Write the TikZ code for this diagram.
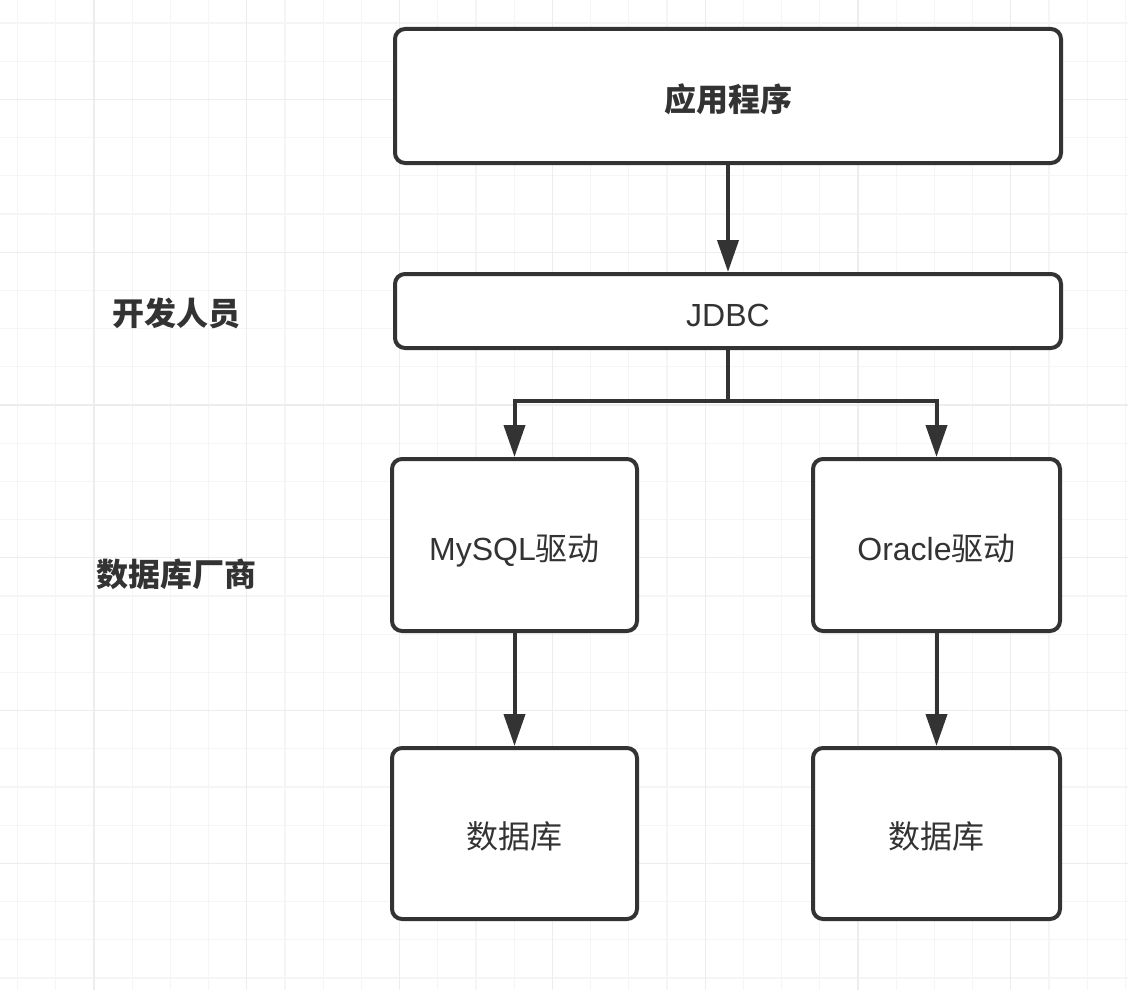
\documentclass[tikz,border=0pt]{standalone}
\usepackage{fontspec}
\setmainfont{Noto Sans CJK SC}
\newfontfamily\latinfont{Liberation Sans}
\usetikzlibrary{arrows.meta}
\definecolor{ink}{HTML}{333333}
\definecolor{gridminor}{HTML}{F5F5F5}
\definecolor{gridmajor}{HTML}{EDEDED}
\tikzset{>={Triangle[length=32pt,width=21pt]}}
\tikzset{
  box/.style={draw=ink,line width=4pt,rounded corners=10pt,fill=white,
    text=ink,font=\fontsize{32}{38}\selectfont,inner sep=0pt,
    text height=36pt,text depth=6pt},
  tag/.style={text=ink,font=\fontsize{32}{38}\selectfont\bfseries},
  conn/.style={draw=ink,line width=4pt}
}
\def\link#1#2{
  \draw [->,conn] (#1) -- (#2);
}

\begin{document}
\begin{tikzpicture}[x=1pt,y=-1pt]
\useasboundingbox (0,0) rectangle (1128,990);
\fill[white] (0,0) rectangle (1128,990);
% grid
\foreach \i in {0,...,29}
  \draw[gridminor,line width=1.2pt] ({17.5+38.2*\i},0) -- ++(0,990);
\foreach \j in {0,...,25}
  \draw[gridminor,line width=1.2pt] (0,{23+38.2*\j}) -- ++(1128,0);
\foreach \i in {2,6,...,26}
  \draw[gridmajor,line width=1.2pt] ({17.5+38.2*\i},0) -- ++(0,990);
\foreach \j in {2,6,...,22}
  \draw[gridmajor,line width=1.2pt] (0,{23+38.2*\j}) -- ++(1128,0);

\node[box,minimum width=666pt,minimum height=134pt,font=\fontsize{32}{38}\selectfont\bfseries] (app) at (728,96) {应用程序};
\node[box,minimum width=666pt,minimum height=74pt] (jdbc) at (728,311) {\latinfont JDBC};
\node[box,minimum width=245pt,minimum height=172pt] (mysql) at (514.5,545) {{\latinfont MySQL}驱动};
\node[box,minimum width=247pt,minimum height=172pt] (oracle) at (936.5,545) {{\latinfont Oracle}驱动};
\node[box,minimum width=245pt,minimum height=171pt] (db1) at (514.5,833.5) {数据库};
\node[box,minimum width=247pt,minimum height=171pt] (db2) at (936.5,833.5) {数据库};
\node[tag] (dev) at (176,313) {开发人员};
\node[tag] (vendor) at (176,574) {数据库厂商};

\link {app} {jdbc}
\draw [->,conn] (jdbc.south) -- ++(0,51) -| (mysql.north);
\draw [->,conn] (jdbc.south) -- ++(0,51) -| (oracle.north);
\link {mysql} {db1}
\link {oracle} {db2}
\end{tikzpicture}
\end{document}
